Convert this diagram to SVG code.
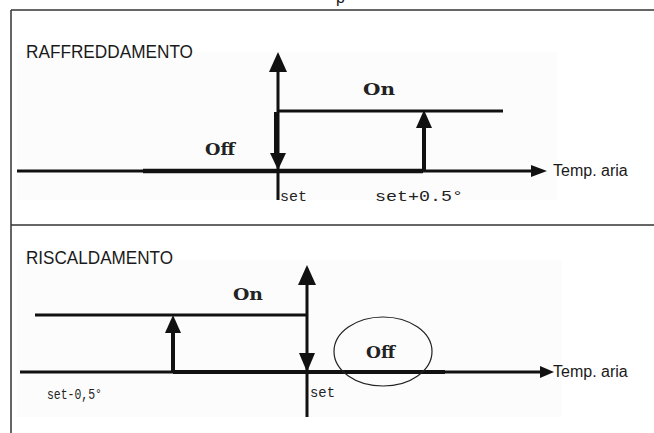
<svg xmlns="http://www.w3.org/2000/svg" width="654" height="433" viewBox="0 0 654 433">
<style>
.frame{stroke:#333;stroke-width:1.5;fill:none}
.ln{stroke:#111;fill:none;stroke-linecap:butt}
.ah{fill:#111}
.title{font-family:"Liberation Sans",Arial,sans-serif;font-size:18px;fill:#1a1a1a}
.axl{font-family:"Liberation Sans",Arial,sans-serif;font-size:16px;fill:#1a1a1a}
.st{font-family:"DejaVu Serif","Liberation Serif",serif;font-weight:bold;font-size:17px;fill:#222}
.lbl{font-family:"Liberation Mono","DejaVu Sans Mono",monospace;font-size:15px;fill:#222}
</style>
<defs>
<clipPath id="clipTop"><rect x="0" y="0" width="654" height="201"/></clipPath>
</defs>
<rect width="654" height="433" fill="#fff"/>
<rect x="17" y="52" width="540" height="148" fill="#fcfcfc"/>
<rect x="17" y="260" width="545" height="157" fill="#fcfcfc"/>
<g id="frame">
<line class="frame" x1="11" y1="10" x2="654" y2="10"/>
<line class="frame" x1="11" y1="10" x2="11" y2="433"/>
<line class="frame" x1="11" y1="225" x2="654" y2="225"/>
</g>
<text x="336" y="3" class="axl">p</text>
<g id="connectors">
<line class="ln" x1="17" y1="171" x2="533" y2="171" stroke-width="3"/>
<line class="ln" x1="143" y1="171" x2="423" y2="171" stroke-width="4.5"/>
<polygon class="ah" points="547,171 531,165 531,177"/>
<line class="ln" x1="278" y1="70" x2="278" y2="200" stroke-width="3"/>
<polygon class="ah" points="278,52 269,72 287,72"/>
<polygon class="ah" points="278,170 270,153 286,153"/>
<line class="ln" x1="276.5" y1="112" x2="276.5" y2="153" stroke-width="5"/>
<line class="ln" x1="278" y1="111" x2="503" y2="111" stroke-width="3"/>
<line class="ln" x1="424" y1="171" x2="424" y2="127" stroke-width="4"/>
<polygon class="ah" points="424,110 416,128 432,128"/>
<line class="ln" x1="20" y1="372" x2="542" y2="372" stroke-width="3"/>
<line class="ln" x1="173" y1="372" x2="445" y2="372" stroke-width="4"/>
<polygon class="ah" points="554,372 540,366 540,378"/>
<line class="ln" x1="307" y1="283" x2="307" y2="417" stroke-width="3"/>
<polygon class="ah" points="307,265 298,285 316,285"/>
<polygon class="ah" points="307,372 299,353 315,353"/>
<line class="ln" x1="35" y1="315" x2="307" y2="315" stroke-width="3"/>
<line class="ln" x1="173" y1="372" x2="173" y2="332" stroke-width="4"/>
<polygon class="ah" points="173,315 165,333 181,333"/>
</g>
<g id="raffreddamento">
<text x="26" y="58" class="title" textLength="167" lengthAdjust="spacingAndGlyphs">RAFFREDDAMENTO</text>
</g>
<g id="top-on"><text x="363" y="95" class="st" textLength="32" lengthAdjust="spacingAndGlyphs">On</text></g>
<g id="top-off"><text x="205" y="155" class="st" textLength="30" lengthAdjust="spacingAndGlyphs">Off</text></g>
<g id="top-temp"><text x="553" y="176" class="axl">Temp. aria</text></g>
<g clip-path="url(#clipTop)">
<g id="top-set"><text x="280" y="200.5" class="lbl" textLength="27" lengthAdjust="spacingAndGlyphs">set</text></g>
<g id="top-setplus"><text x="375" y="200.5" class="lbl" textLength="88" lengthAdjust="spacingAndGlyphs">set+0.5°</text></g>
</g>
<g id="riscaldamento">
<text x="26" y="264" class="title" textLength="147" lengthAdjust="spacingAndGlyphs">RISCALDAMENTO</text>
</g>
<g id="bot-on"><text x="233" y="300" class="st" font-size="15" textLength="30" lengthAdjust="spacingAndGlyphs">On</text></g>
<g id="bot-off">
<ellipse cx="383" cy="351.5" rx="49" ry="34.5" fill="none" stroke="#222" stroke-width="1.2"/>
<text x="366" y="358" class="st" textLength="29" lengthAdjust="spacingAndGlyphs">Off</text>
</g>
<g id="bot-temp"><text x="553" y="377" class="axl">Temp. aria</text></g>
<g id="bot-set"><text x="310" y="397" class="lbl" textLength="25" lengthAdjust="spacingAndGlyphs">set</text></g>
<g id="bot-setminus"><text x="47" y="399" class="lbl" textLength="55" lengthAdjust="spacingAndGlyphs">set-0,5°</text></g>
</svg>
